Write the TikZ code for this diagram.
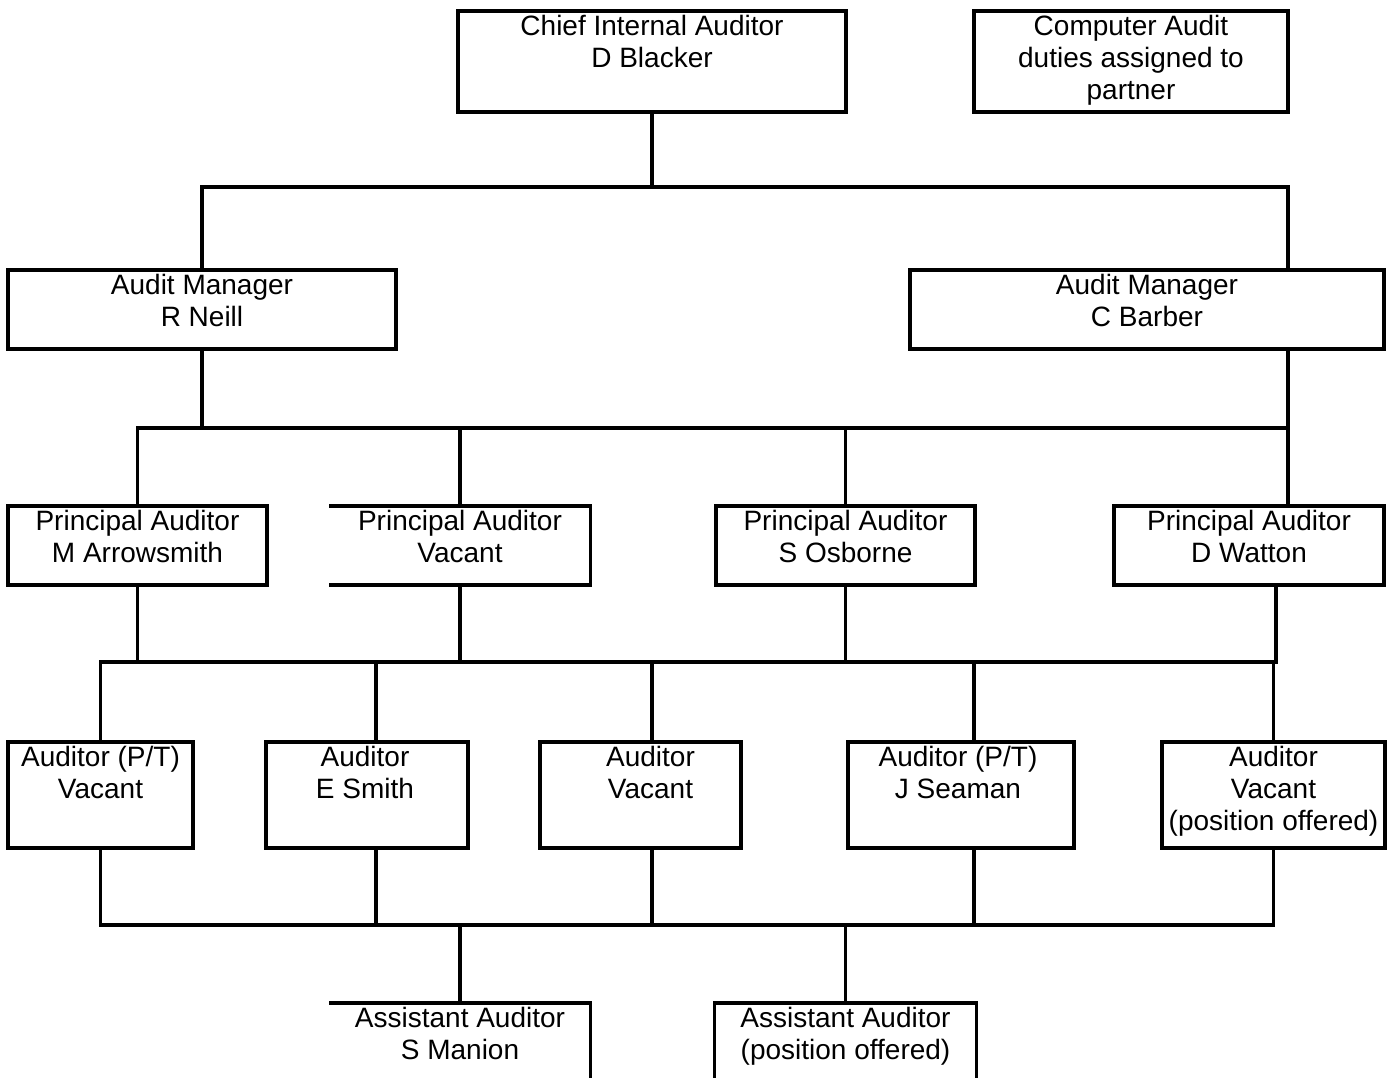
\documentclass[tikz,border=0pt]{standalone}
\usepackage{fontspec}
\setmainfont{Liberation Sans}
\tikzset{
  lw/.style={line width=3.2pt},
  box/.style={rectangle, draw, lw, inner sep=0pt},
  frame/.style={rectangle, draw=none, lw, inner sep=0pt},
  txt/.style={anchor=north, inner sep=0pt, align=center, yshift=-6pt,
    font=\fontsize{28}{32}\selectfont},
  link/.style={lw},
}
\begin{document}
\begin{tikzpicture}[x=1pt,y=-1pt]
\useasboundingbox (0,0) rectangle (1394,1077);
% helper coordinates
\coordinate (y1) at (0,187);
\coordinate (y2) at (0,428);
\coordinate (y3) at (0,662);
\coordinate (y4) at (0,925);
\coordinate (ybot) at (0,1082);
\coordinate (cR) at (1288,0);
\coordinate (cW) at (1276,0);
\coordinate (c2) at (376,0);
\coordinate (c3) at (652,0);
\coordinate (c4) at (974,0);
% boxes
\node[box, minimum width=388pt, minimum height=101pt] (chief) at (652,61.5) {};
\node[box, minimum width=314pt, minimum height=101pt] (comp) at (1131,61.5) {};
\node[box, minimum width=388pt, minimum height=79pt] (neill) at (202,309.5) {};
\node[box, minimum width=474pt, minimum height=79pt] (barber) at (1147,309.5) {};
\node[box, minimum width=259pt, minimum height=79pt] (parrow) at (137.5,545.5) {};
\node[frame, minimum width=258pt, minimum height=79pt] (pvac) at (460,545.5) {};
\node[box, minimum width=259pt, minimum height=79pt] (posb) at (845.5,545.5) {};
\node[box, minimum width=270pt, minimum height=79pt] (pwat) at (1249,545.5) {};
\node[box, minimum width=185pt, minimum height=106pt] (a1) at (100.5,795) {};
\node[box, minimum width=202pt, minimum height=106pt] (a2) at (367,795) {};
\node[box, minimum width=201pt, minimum height=106pt] (a3) at (640.5,795) {};
\node[box, minimum width=226pt, minimum height=106pt] (a4) at (961,795) {};
\node[box, minimum width=223pt, minimum height=106pt] (a5) at (1273.5,795) {};
\node[frame, minimum width=258pt, minimum height=80pt] (s1) at (460,1043) {};
\node[frame, minimum width=259pt, minimum height=80pt] (s2) at (845.5,1043) {};
% partial borders
\draw[lw] ([yshift=-1.6pt]pvac.north west) -- ([yshift=-1.6pt]pvac.north east) -- ([yshift=1.6pt]pvac.south east) -- ([yshift=1.6pt]pvac.south west);
\draw[lw] ([yshift=-1.6pt]s1.north west) -- ([yshift=-1.6pt]s1.north east) -- (s1.east |- ybot);
\draw[lw] (s2.west |- ybot) -- ([yshift=-1.6pt]s2.north west) -- ([yshift=-1.6pt]s2.north east) -- (s2.east |- ybot);
% texts
\node[txt] (chief-t) at (chief.north) {Chief Internal Auditor\\D Blacker};
\node[txt] (comp-t) at (comp.north) {Computer Audit\\duties assigned to\\partner};
\node[txt] (neill-t) at (neill.north) {Audit Manager\\R Neill};
\node[txt] (barber-t) at (barber.north) {Audit Manager\\C Barber};
\node[txt] (parrow-t) at (parrow.north) {Principal Auditor\\M Arrowsmith};
\node[txt] (pvac-t) at (pvac.north) {Principal Auditor\\Vacant};
\node[txt] (posb-t) at (posb.north) {Principal Auditor\\S Osborne};
\node[txt] (pwat-t) at (pwat.north) {Principal Auditor\\D Watton};
\node[txt] (a1-t) at (a1.north) {Auditor (P/T)\\Vacant};
\node[txt, xshift=-2pt] (a2-t) at (a2.north) {Auditor\\E Smith};
\node[txt, xshift=10pt] (a3-t) at (a3.north) {Auditor\\Vacant};
\node[txt, xshift=-3pt] (a4-t) at (a4.north) {Auditor (P/T)\\J Seaman};
\node[txt] (a5-t) at (a5.north) {Auditor\\Vacant\\(position offered)};
\node[txt] (s1-t) at (s1.north) {Assistant Auditor\\S Manion};
\node[txt] (s2-t) at (s2.north) {Assistant Auditor\\(position offered)};
% connectors
\draw[link] (chief.south) -- (chief.south |- y1);
\draw[link] (neill.north) -- (neill.north |- y1) -- (cR |- y1) -- (barber.north -| cR);
\draw[link] (neill.south) -- (neill.south |- y2);
\draw[link] (barber.south -| cR) -- (cR |- y2);
\draw[link] (parrow.north) -- (parrow.north |- y2) -- (cR |- y2) -- (pwat.north -| cR);
\draw[link] (pvac.north) -- (pvac.north |- y2);
\draw[link] (posb.north) -- (posb.north |- y2);
\draw[link] (parrow.south) -- (parrow.south |- y3);
\draw[link] (pvac.south) -- (pvac.south |- y3);
\draw[link] (posb.south) -- (posb.south |- y3);
\draw[link] (a1.north) -- (a1.north |- y3) -- (cW |- y3) -- (pwat.south -| cW);
\draw[link] (a2.north -| c2) -- (c2 |- y3);
\draw[link] (a3.north -| c3) -- (c3 |- y3);
\draw[link] (a4.north -| c4) -- (c4 |- y3);
\draw[link] (a5.north) -- (a5.north |- y3);
\draw[link] (a1.south) -- (a1.south |- y4) -- (a5.south |- y4) -- (a5.south);
\draw[link] (a2.south -| c2) -- (c2 |- y4);
\draw[link] (a3.south -| c3) -- (c3 |- y4);
\draw[link] (a4.south -| c4) -- (c4 |- y4);
\draw[link] (s1.north) -- (s1.north |- y4);
\draw[link] (s2.north) -- (s2.north |- y4);
\end{tikzpicture}
\end{document}
